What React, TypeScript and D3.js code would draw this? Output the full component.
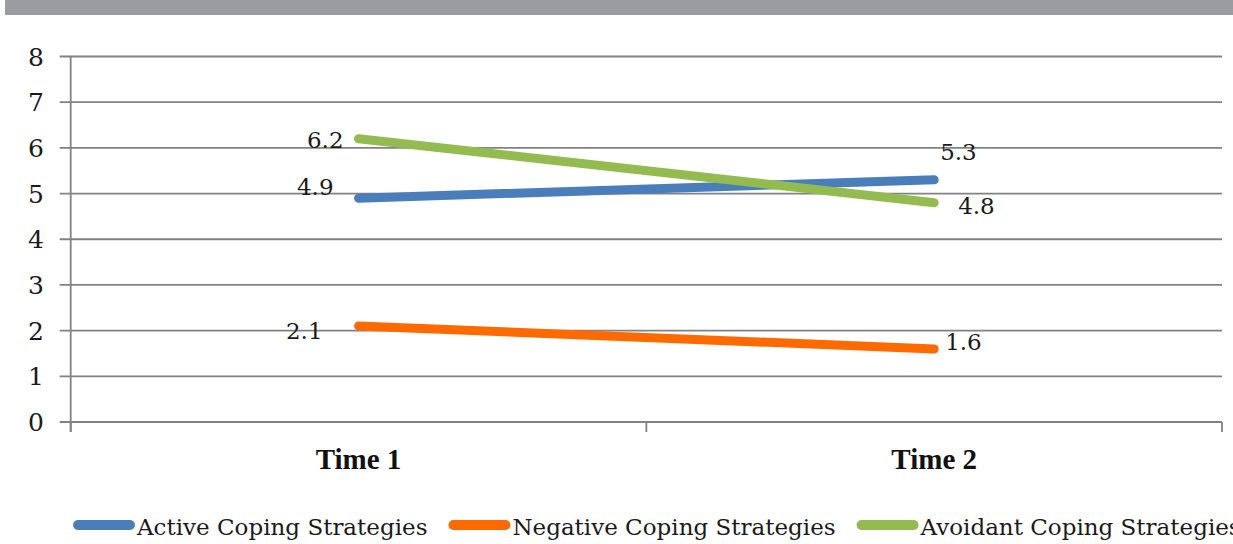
import React, { useEffect, useRef } from "react";
import * as d3 from "d3";

const categories = ["Time 1", "Time 2"];
const seriesNames = [
  "Active Coping Strategies",
  "Negative Coping Strategies",
  "Avoidant Coping Strategies",
];
const activeValues = [4.9, 5.3];
const negativeValues = [2.1, 1.6];
const avoidantValues = [6.2, 4.8];
const yTicks = [0, 1, 2, 3, 4, 5, 6, 7, 8];

const colors = ["#4a7ebb", "#ff6a00", "#93bb50"];

// where each data label sits relative to its point (anchor, dx, dy)
const labelPlacement: [string, number, number][][] = [
  [["end", -25, -3], ["start", 6, -20]],
  [["end", -36, 13], ["start", 11, 1]],
  [["end", -15, 9], ["start", 24, 11]],
];

const W = 1233;
const H = 544;
const labelFont = "'DejaVu Serif', serif";

const App = () => {
  const ref = useRef<SVGSVGElement>(null);

  useEffect(() => {
    const svg = d3.select(ref.current);
    svg.selectAll("*").remove();

    const left = 70.7;
    const right = 1222;
    const top = 56.5;
    const bottom = 422;

    const x = d3.scaleBand().domain(categories).range([left, right]).padding(0);
    const y = d3.scaleLinear().domain([0, 8]).range([bottom, top]);

    // gray header band
    svg.append("rect")
      .attr("x", 5).attr("y", 0)
      .attr("width", W - 5).attr("height", 15)
      .attr("fill", "#9b9ca0");

    // gridlines + y ticks
    svg.append("g")
      .selectAll("line")
      .data(yTicks)
      .join("line")
      .attr("x1", left - 11).attr("x2", right)
      .attr("y1", d => y(d)).attr("y2", d => y(d))
      .attr("stroke", "#828282")
      .attr("stroke-width", 1.8);

    svg.append("g")
      .selectAll("text")
      .data(yTicks)
      .join("text")
      .attr("x", 44)
      .attr("y", d => y(d))
      .attr("dy", "0.36em")
      .attr("text-anchor", "end")
      .style("font-family", labelFont)
      .style("font-size", "25px")
      .style("fill", "#1a1a1a")
      .text(d => d);

    // y axis line
    svg.append("line")
      .attr("x1", left).attr("x2", left)
      .attr("y1", top).attr("y2", bottom + 10)
      .attr("stroke", "#828282").attr("stroke-width", 1.8);

    // x axis ticks at band edges
    const edges = [...categories.map(c => x(c) as number), right];
    svg.append("g")
      .selectAll("line")
      .data(edges)
      .join("line")
      .attr("x1", d => d).attr("x2", d => d)
      .attr("y1", bottom).attr("y2", bottom + 10)
      .attr("stroke", "#828282").attr("stroke-width", 1.8);

    // category labels
    svg.append("g")
      .selectAll("text")
      .data(categories)
      .join("text")
      .attr("x", d => (x(d) as number) + x.bandwidth() / 2)
      .attr("y", 469)
      .attr("text-anchor", "middle")
      .style("font-family", "'Liberation Serif', serif")
      .style("font-weight", "bold")
      .style("font-size", "29px")
      .style("fill", "#111")
      .text(d => d);

    const series = [activeValues, negativeValues, avoidantValues];
    const cx = (i: number) => (x(categories[i]) as number) + x.bandwidth() / 2;
    const line = d3.line<number>().x((_, i) => cx(i)).y(d => y(d));

    series.forEach((vals, s) => {
      svg.append("path")
        .attr("d", line(vals))
        .attr("fill", "none")
        .attr("stroke", colors[s])
        .attr("stroke-width", 9)
        .attr("stroke-linecap", "round");
    });

    series.forEach((vals, s) => {
      svg.append("g")
        .selectAll("text")
        .data(vals)
        .join("text")
        .attr("x", (d, i) => cx(i) + labelPlacement[s][i][1])
        .attr("y", (d, i) => y(d) + labelPlacement[s][i][2])
        .attr("text-anchor", (d, i) => labelPlacement[s][i][0])
        .style("font-family", labelFont)
        .style("font-size", "23px")
        .style("fill", "#1a1a1a")
        .text(d => d.toFixed(1));
    });

    // legend (the last entry runs past the right edge, as in the original)
    const legend = svg.append("g");
    let lx = 73;
    seriesNames.forEach((name, s) => {
      legend.append("line")
        .attr("x1", lx + 5).attr("x2", lx + 57)
        .attr("y1", 525).attr("y2", 525)
        .attr("stroke", colors[s])
        .attr("stroke-width", 10)
        .attr("stroke-linecap", "round");
      const t = legend.append("text")
        .attr("x", lx + 64)
        .attr("y", 535)
        .style("font-family", labelFont)
        .style("font-size", "23px")
        .style("fill", "#1a1a1a")
        .text(name);
      const w = (t.node() as SVGTextElement).getComputedTextLength();
      lx = lx + 64 + w + 21;
    });
  }, []);

  return (
    <svg
      ref={ref}
      width={W}
      height={H}
      style={{ position: "absolute", left: 0, top: 0, background: "#fff" }}
    />
  );
};

export default App;
